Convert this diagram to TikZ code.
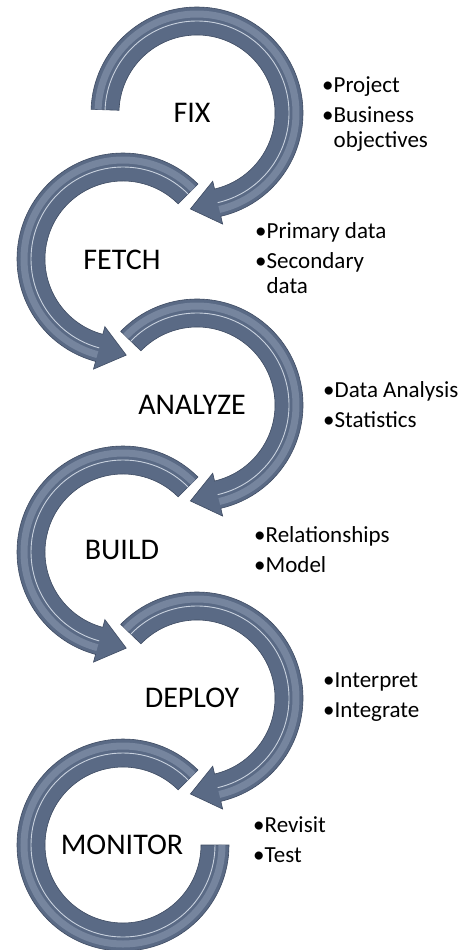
\documentclass[tikz,border=0pt]{standalone}
\usepackage{fontspec}
\setmainfont{Carlito}
\usepackage{tikz}
\usetikzlibrary{calc}
\definecolor{arrowbase}{RGB}{90,106,133}
\definecolor{arrowedge}{RGB}{62,75,98}
\definecolor{arrowband}{RGB}{118,133,158}
\definecolor{arrowshine}{RGB}{200,209,222}
\tikzset{
    ring/.style = {fill=arrowbase, draw=arrowedge, line width=0.6pt},
    gap/.style = {draw=white, line width=3pt},
    band/.style = {draw=arrowband, line width=7pt},
    shine/.style = {draw=arrowshine, line width=0.9pt},
    stagelabel/.style = {font=\fontsize{30}{36}\selectfont, inner sep=0pt},
    points/.style = {font=\fontsize{23}{25}\selectfont, align=left, anchor=north west, inner sep=0pt}
}
\newcommand{\pstrut}{\rule{0pt}{18pt}}
% ring arrow: #1 centre, #2 start angle, #3 angle of the head, #4 turn of the head (90 or -90)
\newcommand{\ringpath}[4]{($(#1)+(#2:106)$) arc[start angle=#2, end angle=#3, radius=106]
    -- ($(#1)+(#3:114)$) -- ($(#1)+(#3:92)+({#3+(#4)}:28)$) -- ($(#1)+(#3:70)$)
    -- ($(#1)+(#3:78)$) arc[start angle=#3, end angle=#2, radius=78] -- cycle}
\newcommand{\ringarrow}[4]{%
    \draw[gap] \ringpath{#1}{#2}{#3}{#4};
    \filldraw[ring] \ringpath{#1}{#2}{#3}{#4};
    \draw[band] ($(#1)+(#2:99)$) arc[start angle=#2, end angle=#3, radius=99];
    \draw[shine] ($(#1)+(#2:92)$) arc[start angle=#2, end angle=#3, radius=92];
}

\begin{document}
\begin{tikzpicture}[x=1pt, y=-1pt]
    \useasboundingbox (0,0) rectangle (473,950);
    % ring centres
    \coordinate (r1) at (197,113);
    \coordinate (r2) at (123,259);
    \coordinate (r3) at (197,405);
    \coordinate (r4) at (123,552);
    \coordinate (r5) at (197,698);
    \coordinate (r6) at (123,845);

    \foreach \c/\a/\b/\t in {r1/182/437/90, r2/315/105/-90, r3/224/437/90, r4/315/105/-90, r5/224/437/90} {
            \ringarrow{\c}{\a}{\b}{\t}
        }
    % last ring, no head
    \draw[gap] ($(r6)+(315:106)$) arc[start angle=315, end angle=0, radius=106] -- ($(r6)+(0:78)$) arc[start angle=0, end angle=315, radius=78] -- cycle;
    \filldraw[ring] ($(r6)+(315:106)$) arc[start angle=315, end angle=0, radius=106] -- ($(r6)+(0:78)$) arc[start angle=0, end angle=315, radius=78] -- cycle;
    \draw[band] ($(r6)+(315:99)$) arc[start angle=315, end angle=0, radius=99];
    \draw[shine] ($(r6)+(315:92)$) arc[start angle=315, end angle=0, radius=92];

    \foreach \n/\txt/\x/\y in {fix/FIX/192/113, fetch/FETCH/122/260, analyze/ANALYZE/192/405, build/BUILD/122/550, deploy/DEPLOY/192/698, monitor/MONITOR/122/845} {
            \node[stagelabel] (\n) at (\x,\y) {\txt};
        }

    \node[points] (fixpoints) at (322,74) {\pstrut\textbullet Project\\[5pt] \textbullet Business\\ \phantom{\textbullet}objectives};
    \node[points] (fetchpoints) at (255,220) {\pstrut\textbullet Primary data\\[5pt] \textbullet Secondary\\ \phantom{\textbullet}data};
    \node[points] (analyzepoints) at (323,379) {\pstrut\textbullet Data Analysis\\[5pt] \textbullet Statistics};
    \node[points] (buildpoints) at (254,524) {\pstrut\textbullet Relationships\\[5pt] \textbullet Model};
    \node[points] (deploypoints) at (323,669) {\pstrut\textbullet Interpret\\[5pt] \textbullet Integrate};
    \node[points] (monitorpoints) at (253,814) {\pstrut\textbullet Revisit\\[5pt] \textbullet Test};
\end{tikzpicture}
\end{document}
